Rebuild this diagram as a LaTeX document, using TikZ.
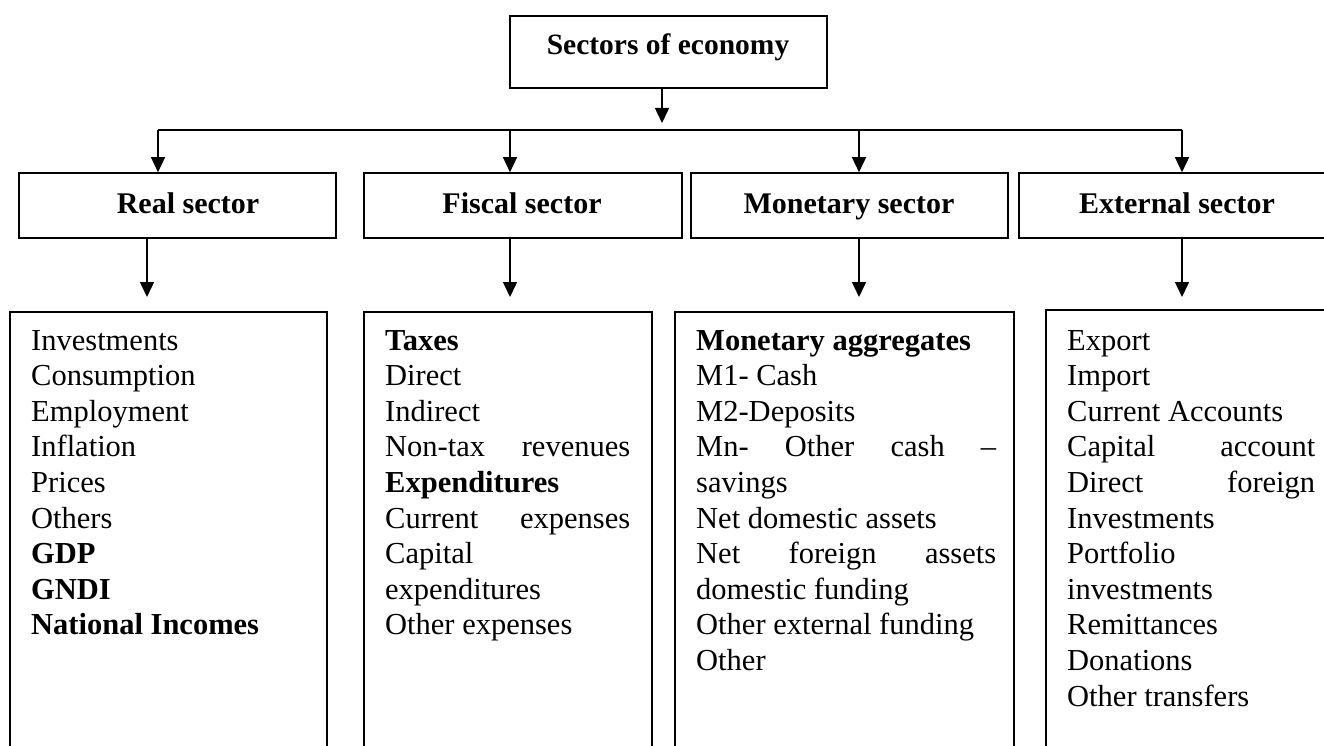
\documentclass[tikz,border=0pt]{standalone}
\usepackage{fontspec}
\setmainfont{Liberation Serif}
\usetikzlibrary{arrows.meta}
\newcommand\myjust[1]{\leavevmode\hbox to\linewidth{#1}}
\begin{document}
\begin{tikzpicture}[x=1pt,y=-1pt,
  box/.style={draw, line width=1.6pt, inner sep=0pt, rectangle},
  arr/.style={line width=1.5pt, -{Triangle[length=15pt,width=14pt]}},
  conn/.style={line width=1.5pt},
  lbl/.style={anchor=base, inner sep=0pt, font=\fontsize{30}{36}\selectfont\bfseries},
  lst/.style={anchor=base west, inner sep=0pt, font=\fontsize{30.5}{35.6}\selectfont}]
\useasboundingbox (0,0) rectangle (1324,746);
\clip (0,0) rectangle (1324,746);

% top box
\node[box, minimum width=317pt, minimum height=72pt] (top) at (668.5,52) {};
\node[lbl, font=\fontsize{29.5}{36}\selectfont\bfseries] (toplbl) at (668,55) {Sectors of economy};

% sector boxes
\node[box, minimum width=317pt, minimum height=65pt] (real) at (177.5,205.5) {};
\node[box, minimum width=318pt, minimum height=65pt] (fisc) at (523,205.5) {};
\node[box, minimum width=317pt, minimum height=65pt] (mone) at (849.5,205.5) {};
\node[box, minimum width=316pt, minimum height=65pt] (exte) at (1177,205.5) {};
\node[lbl] (reallbl) at (188,213) {Real sector};
\node[lbl] (fisclbl) at (522,213) {Fiscal sector};
\node[lbl] (monelbl) at (849,213) {Monetary sector};
\node[lbl] (extelbl) at (1177,213) {External sector};

% bottom boxes
\node[box, minimum width=317pt, minimum height=500pt] (realb) at (168.5,562) {};
\node[box, minimum width=288pt, minimum height=500pt] (fiscb) at (508,562) {};
\node[box, minimum width=339pt, minimum height=500pt] (moneb) at (844.5,562) {};
\node[box, minimum width=317pt, minimum height=500pt] (exteb) at (1204.5,560) {};

% connectors
\coordinate (j) at (662,123);
\draw[arr] ([xshift=-6.5pt]top.south) -- (j);
\coordinate (hr) at (158,130);
\coordinate (hf) at (510,130);
\coordinate (hm) at (859,130);
\coordinate (he) at (1182,130);
\draw[conn] (hr) -- (he);
\draw[arr] (hr) -- (hr |- real.north);
\draw[arr] (hf) -- (hf |- fisc.north);
\draw[arr] (hm) -- (hm |- mone.north);
\draw[arr] (he) -- (he |- exte.north);

\coordinate (tr) at (147,297);
\coordinate (tf) at (510,297);
\coordinate (tm) at (859,297);
\coordinate (te) at (1182,297);
\draw[arr] (tr |- real.south) -- (tr);
\draw[arr] (tf |- fisc.south) -- (tf);
\draw[arr] (tm |- mone.south) -- (tm);
\draw[arr] (te |- exte.south) -- (te);

% lists
\node[lst] (reallist) at (31,350) {\parbox[t]{290pt}{\raggedright
Investments\\
Consumption\\
Employment\\
Inflation\\
Prices\\
Others\\
\textbf{GDP}\\
\textbf{GNDI}\\
\textbf{National Incomes}}};

\node[lst] (fisclist) at (385,350) {\parbox[t]{245pt}{\raggedright
\textbf{Taxes}\\
Direct\\
Indirect\\
\myjust{Non-tax\hfill revenues}\\
\textbf{Expenditures}\\
\myjust{Current\hfill expenses}\\
Capital\\
expenditures\\
Other expenses}};

\node[lst] (monelist) at (696,350) {\parbox[t]{300pt}{\raggedright
\textbf{Monetary aggregates}\\
M1- Cash\\
M2-Deposits\\
\myjust{Mn-\hfill Other\hfill cash\hfill –}\\
savings\\
Net domestic assets\\
\myjust{Net\hfill foreign\hfill assets}\\
domestic funding\\
Other external funding\\
Other}};

\node[lst] (extelist) at (1067,350) {\parbox[t]{248pt}{\raggedright
Export\\
Import\\
Current Accounts\\
\myjust{Capital\hfill account}\\
\myjust{Direct\hfill foreign}\\
Investments\\
Portfolio\\
investments\\
Remittances\\
Donations\\
Other transfers}};
\end{tikzpicture}
\end{document}
